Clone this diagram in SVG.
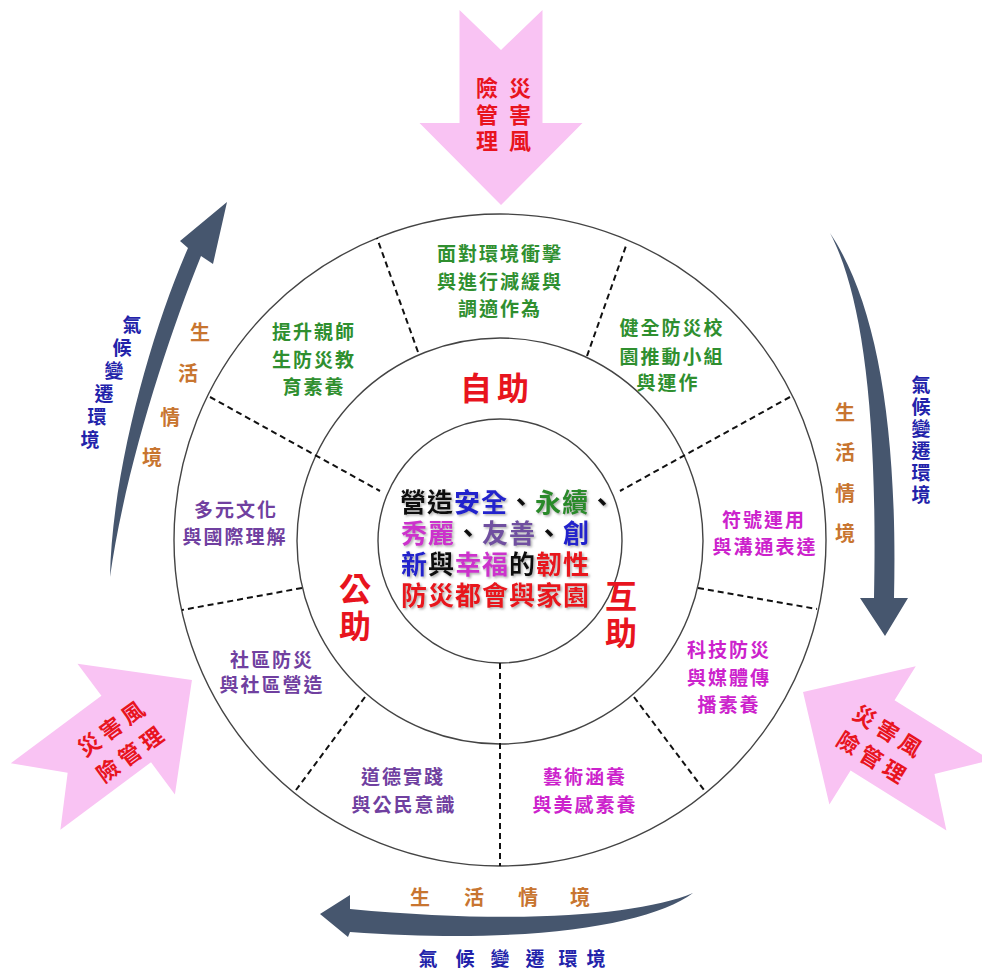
<svg xmlns="http://www.w3.org/2000/svg" width="982" height="971" viewBox="0 0 982 971">
<defs>
<style>
text{font-family:"Liberation Sans","Noto Sans CJK TC","Noto Sans CJK SC",sans-serif;}
.ring{fill:none;stroke:#444;stroke-width:1.4}
.dash{stroke:#111;stroke-width:2;stroke-dasharray:6 4;fill:none}
.pink{fill:#f9c3f3}
.dark{fill:#46566e}
.risk{fill:#e8141e;font-size:22px;font-weight:bold}
.seg{font-size:19px;font-weight:bold;text-anchor:middle;letter-spacing:2px}
.g{fill:#2f8f2f}
.p{fill:#7040a0}
.m{fill:#cc22cc}
.big{fill:#e8141e;font-size:32px;font-weight:bold;text-anchor:middle}
.life{fill:#c87530;font-size:20px;font-weight:bold;text-anchor:middle}
.clim{fill:#2222aa;font-size:19px;font-weight:bold;text-anchor:middle}
.ctr{font-size:26px;font-weight:bold;letter-spacing:1px}
</style>
<path id="parrow" d="M0,-41.5 L40,0 L0,41.5 L113,41.5 L113,81.5 L195,0 L113,-81.5 L113,-41.5 Z"/>
<filter id="sh" x="-10%" y="-10%" width="120%" height="130%">
<feDropShadow dx="1.5" dy="1.5" stdDeviation="1" flood-color="#777" flood-opacity="0.6"/>
</filter>
</defs>
<rect width="982" height="971" fill="#fff"/>

<g id="risk-top">
<use href="#parrow" class="pink" transform="translate(501,10) rotate(90)"/>
<text class="risk" text-anchor="middle"><tspan x="520" y="96">災</tspan><tspan x="520" y="123">害</tspan><tspan x="520" y="149">風</tspan><tspan x="487" y="96">險</tspan><tspan x="487" y="123">管</tspan><tspan x="487" y="149">理</tspan></text>
</g>

<g id="risk-left">
<use href="#parrow" class="pink" transform="translate(35.6,796.6) rotate(-36.7)"/>
<text class="risk" text-anchor="middle" letter-spacing="5" transform="translate(121,741.5) rotate(-36)"><tspan x="2" y="-8">災害風</tspan><tspan x="2" y="24">險管理</tspan></text>
</g>

<g id="risk-right">
<use href="#parrow" class="pink" transform="translate(968.4,795.3) rotate(212)"/>
<text class="risk" text-anchor="middle" letter-spacing="5" transform="translate(880,744) rotate(32)"><tspan x="2" y="-7">災害風</tspan><tspan x="2" y="24">險管理</tspan></text>
</g>

<g id="connectors">
<path class="dark" d="M110,577 C112,470 152,330 188,248 L180,241 L227,202 L213,264 L201,256 C167,340 125,470 110,577 Z"/>
<path class="dark" d="M830,233 C860,290 878,400 874,598 L860,598 L885,636 L908,598 L894,598 C898,420 875,300 830,233 Z"/>
<path class="dark" d="M693,893 C640,915 520,925 350,909 L350,895 L320,914 L348,937 L350,932 C530,945 650,925 693,893 Z"/>
</g>

<g id="labels">
<text class="life"><tspan x="200" y="340">生</tspan><tspan x="188" y="381">活</tspan><tspan x="170" y="425">情</tspan><tspan x="152" y="465">境</tspan></text>
<text class="clim"><tspan x="132" y="332">氣</tspan><tspan x="122" y="355">候</tspan><tspan x="114" y="378">變</tspan><tspan x="104" y="401">遷</tspan><tspan x="97" y="424">環</tspan><tspan x="90" y="447">境</tspan></text>
<text class="life"><tspan x="845" y="420">生</tspan><tspan x="845" y="460">活</tspan><tspan x="845" y="501">情</tspan><tspan x="845" y="541">境</tspan></text>
<text class="clim"><tspan x="921" y="392">氣</tspan><tspan x="921" y="414">候</tspan><tspan x="921" y="436">變</tspan><tspan x="921" y="458">遷</tspan><tspan x="921" y="480">環</tspan><tspan x="921" y="502">境</tspan></text>
<text class="life"><tspan x="420" y="905">生</tspan><tspan x="474" y="905">活</tspan><tspan x="528" y="905">情</tspan><tspan x="580" y="905">境</tspan></text>
<text class="clim" font-size="23"><tspan x="428" y="966">氣</tspan><tspan x="465" y="966">候</tspan><tspan x="500" y="966">變</tspan><tspan x="535" y="966">遷</tspan><tspan x="568" y="966">環</tspan><tspan x="596" y="966">境</tspan></text>
</g>

<g id="rings">
<circle class="ring" cx="500" cy="540" r="326"/>
<circle class="ring" cx="500" cy="541" r="203"/>
<circle class="ring" cx="500" cy="541" r="122"/>
</g>

<g id="dividers">
<line class="dash" x1="210" y1="397" x2="380" y2="491"/>
<line class="dash" x1="790" y1="397" x2="620" y2="491"/>
<line class="dash" x1="500" y1="663" x2="500" y2="866"/>
<line class="dash" x1="418" y1="352" x2="377" y2="238"/>
<line class="dash" x1="587" y1="356" x2="627" y2="243"/>
<line class="dash" x1="302" y1="588" x2="182" y2="610"/>
<line class="dash" x1="698" y1="588" x2="817" y2="609"/>
<line class="dash" x1="365" y1="697" x2="296" y2="790"/>
<line class="dash" x1="634" y1="697" x2="704" y2="790"/>
</g>

<g id="seg-top">
<text class="seg g"><tspan x="500" y="261">面對環境衝擊</tspan><tspan x="500" y="289">與進行減緩與</tspan><tspan x="500" y="316">調適作為</tspan></text>
</g>
<g id="seg-upper-left">
<text class="seg g"><tspan x="314" y="339">提升親師</tspan><tspan x="314" y="367">生防災教</tspan><tspan x="314" y="394">育素養</tspan></text>
</g>
<g id="seg-upper-right">
<text class="seg g"><tspan x="672" y="335">健全防災校</tspan><tspan x="672" y="364">園推動小組</tspan><tspan x="668" y="390">與運作</tspan></text>
</g>
<g id="seg-left">
<text class="seg p"><tspan x="236" y="517">多元文化</tspan><tspan x="235" y="544">與國際理解</tspan></text>
</g>
<g id="seg-lower-left">
<text class="seg p"><tspan x="272" y="667">社區防災</tspan><tspan x="272" y="692">與社區營造</tspan></text>
</g>
<g id="seg-bottom-left">
<text class="seg p"><tspan x="403" y="784">道德實踐</tspan><tspan x="404" y="812">與公民意識</tspan></text>
</g>
<g id="seg-bottom-right">
<text class="seg m"><tspan x="585" y="784">藝術涵養</tspan><tspan x="585" y="812">與美感素養</tspan></text>
</g>
<g id="seg-lower-right">
<text class="seg m"><tspan x="729" y="657">科技防災</tspan><tspan x="729" y="685">與媒體傳</tspan><tspan x="729" y="712">播素養</tspan></text>
</g>
<g id="seg-right">
<text class="seg m"><tspan x="764" y="527">符號運用</tspan><tspan x="765" y="554">與溝通表達</tspan></text>
</g>

<g id="self-help">
<text class="big" letter-spacing="5" x="497" y="400">自助</text>
</g>
<g id="public-help">
<text class="big"><tspan x="355" y="601">公</tspan><tspan x="355" y="638">助</tspan></text>
</g>
<g id="mutual-help">
<text class="big"><tspan x="621" y="608">互</tspan><tspan x="621" y="645">助</tspan></text>
</g>

<g id="center" filter="url(#sh)">
<text class="ctr"><tspan x="400" y="512"><tspan fill="#111">營造</tspan><tspan fill="#2222cc">安全</tspan><tspan fill="#111">、</tspan><tspan fill="#2a8a2a">永續</tspan><tspan fill="#111">、</tspan></tspan><tspan x="401" y="543"><tspan fill="#cc33cc">秀麗</tspan><tspan fill="#111">、</tspan><tspan fill="#7050a0">友善</tspan><tspan fill="#111">、</tspan><tspan fill="#2222cc">創</tspan></tspan><tspan x="401" y="574"><tspan fill="#2222cc">新</tspan><tspan fill="#111">與</tspan><tspan fill="#cc33cc">幸福</tspan><tspan fill="#111">的</tspan><tspan fill="#e8141e">韌性</tspan></tspan><tspan x="401" y="605" fill="#e8141e">防災都會與家園</tspan></text>
</g>
</svg>
